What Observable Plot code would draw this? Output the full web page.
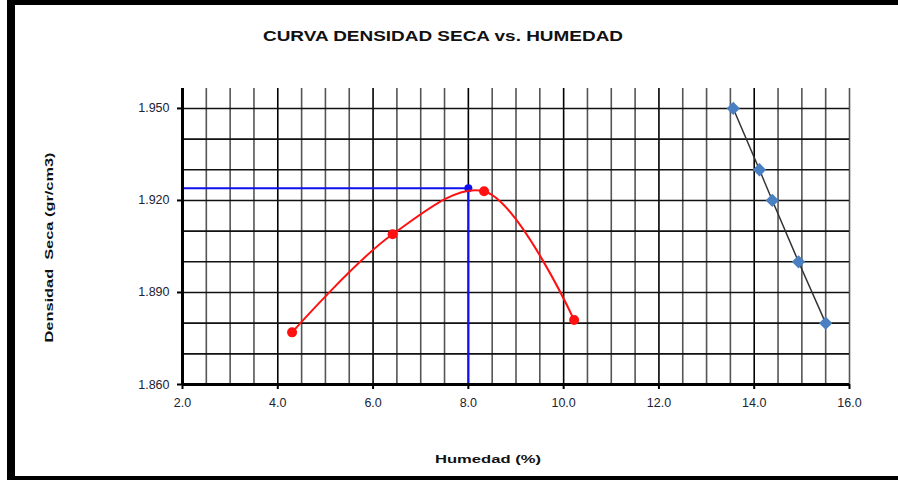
<!DOCTYPE html>
<html>
<head>
<meta charset="utf-8">
<script src="https://cdn.jsdelivr.net/npm/d3@7"></script>
<script src="https://cdn.jsdelivr.net/npm/@observablehq/plot@0.6"></script>
<style>
  html, body { margin: 0; padding: 0; background: #fff; }
  #wrap { position: relative; width: 898px; height: 480px; overflow: hidden; }
  #border { position: absolute; left: 7px; top: 0; width: 900px; height: 471px;
            border-left: 8px solid #000; border-top: 5px solid #000; border-bottom: 9px solid #000;
            box-sizing: content-box; pointer-events: none; }
  svg { font-family: "Liberation Sans", Arial, sans-serif; }
</style>
</head>
<body>
<div id="wrap"><div id="border"></div></div>
<script>
// Compaction test (Proctor) data
const humedad = [4.3, 6.41, 8.33, 10.22];
const densidad = [1.877, 1.909, 1.923, 1.881];
// Saturation line
const satHumedad = [13.56, 14.11, 14.38, 14.93, 15.50];
const satDensidad = [1.950, 1.930, 1.920, 1.900, 1.880];
// Optimum
const optHumedad = [8.0];
const maxDensidad = [1.924];
// Ticks
const xTicks = [2, 4, 6, 8, 10, 12, 14, 16];
const yTicks = [1.860, 1.890, 1.920, 1.950];
const xMinor = [2.5, 3, 3.5, 4.5, 5, 5.5, 6.5, 7, 7.5, 8.5, 9, 9.5, 10.5, 11, 11.5, 12.5, 13, 13.5, 14.5, 15, 15.5, 16];
const yMinor = [1.870, 1.880, 1.890, 1.900, 1.910, 1.920, 1.930, 1.940, 1.950];

const proctor = humedad.map((h, i) => ({h, d: densidad[i]}));
const sat = satHumedad.map((h, i) => ({h, d: satDensidad[i]}));
const opt = optHumedad.map((h, i) => ({h, d: maxDensidad[i]}));

const chart = Plot.plot({
  width: 898, height: 480,
  marginLeft: 182, marginRight: 49, marginTop: 88, marginBottom: 96,
  style: {fontFamily: "'Liberation Sans', Arial, sans-serif", background: "transparent"},
  x: {domain: [2, 16]},
  y: {domain: [1.860, 1.9565]},
  marks: [
    Plot.ruleX(xMinor, {stroke: "#555", strokeWidth: 1.6}),
    Plot.ruleX(xTicks.filter(d => d !== 2 && d !== 16), {stroke: "#000", strokeWidth: 1.6}),
    Plot.ruleY(yMinor, {stroke: "#111", strokeWidth: 1.6}),
    Plot.axisX({ticks: xTicks, tickFormat: d => d.toFixed(1), tickSize: 5, tickPadding: 9,
                fontSize: 12.5, fill: "#223", stroke: "#000", strokeWidth: 2, label: null}),
    Plot.axisY({ticks: yTicks, tickFormat: d => d.toFixed(3), tickSize: 5, tickPadding: 8,
                fontSize: 12.5, fill: "#223", stroke: "#000", strokeWidth: 2, label: null}),
    // blue optimum guide lines
    Plot.line([{h: 2, d: maxDensidad[0]}, ...opt, {h: optHumedad[0], d: 1.860}],
              {x: "h", y: "d", stroke: "#1010ee", strokeWidth: 2}),
    Plot.dot(opt, {x: "h", y: "d", r: 4, fill: "#1010ee"}),
    // axis lines
    Plot.ruleY([1.860], {stroke: "#000", strokeWidth: 3}),
    Plot.ruleX([2], {stroke: "#000", strokeWidth: 3}),
    // proctor curve
    Plot.line(proctor, {x: "h", y: "d", stroke: "#ff1111", strokeWidth: 2, curve: "catmull-rom"}),
    Plot.dot(proctor, {x: "h", y: "d", r: 5, fill: "#ff1111"}),
    // saturation line
    Plot.line(sat, {x: "h", y: "d", stroke: "#333", strokeWidth: 1.5}),
    Plot.dot(sat, {x: "h", y: "d", symbol: "diamond2", r: 6, fill: "#4a7fc1"}),
    // texts
    Plot.text(["CURVA DENSIDAD SECA vs. HUMEDAD"], {frameAnchor: "top", dx: -73, dy: -58,
              fontSize: 15, fontWeight: "bold", fill: "#111", className: "ttl"}),
    Plot.text(["Densidad  Seca (gr/cm3)"], {frameAnchor: "bottom-left", dx: -130, dy: -42, rotate: -90,
              textAnchor: "start", fontSize: 11.5, fontWeight: "bold", fill: "#111", className: "ylab"}),
    Plot.text(["Humedad (%)"], {frameAnchor: "bottom", dx: -28, dy: 78,
              fontSize: 11, fontWeight: "bold", fill: "#111", className: "xlab"})
  ]
});
document.getElementById("wrap").prepend(chart);
// stretch texts to match reference extents
const fit = (cls, len) => d3.select(chart).selectAll("g." + cls + " text")
  .attr("textLength", len).attr("lengthAdjust", "spacingAndGlyphs");
fit("ttl", 360);
fit("ylab", 190);
fit("xlab", 106);
</script>
</body>
</html>
